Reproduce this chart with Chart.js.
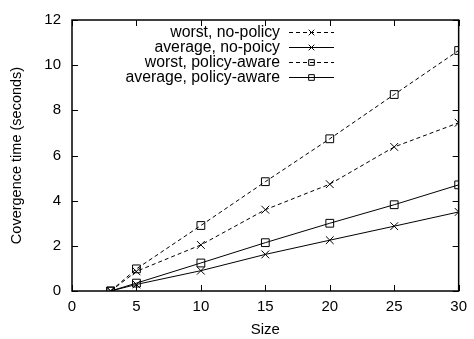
<!DOCTYPE html>
<html lang="en">
<head>
  <meta charset="UTF-8">
  <title>Convergence time vs size</title>
  <script src="https://cdn.jsdelivr.net/npm/chart.js"></script>
  <style>
    body {
      margin: 0;
      background: #ffffff;
    }

    #wrap {
      width: 474px;
      height: 339px;
    }
  </style>
</head>
<body>
  <div id="wrap">
    <canvas id="convChart" width="474" height="339"></canvas>
  </div>

  <script>
    const sizes = [3, 5, 10, 15, 20, 25, 30];
    const worstNoPolicy = [0, 0.87, 2.04, 3.6, 4.73, 6.38, 7.45];
    const averageNoPolicy = [0, 0.29, 0.9, 1.62, 2.25, 2.87, 3.5];
    const worstPolicyAware = [0, 0.98, 2.9, 4.84, 6.74, 8.7, 10.65];
    const averagePolicyAware = [0, 0.35, 1.24, 2.14, 3.0, 3.82, 4.7];

    const seriesLabels = ['worst, no-policy', 'average, no-poicy', 'worst, policy-aware', 'average, policy-aware'];
    const xTicks = [0, 5, 10, 15, 20, 25, 30];
    const yTicks = [0, 2, 4, 6, 8, 10, 12];

    const fontFamily = "'Liberation Sans', Arial, sans-serif";
    const dash = [4, 3];

    function toPoints(values) {
      return values.map((v, i) => ({ x: sizes[i], y: v }));
    }

    function makeSet(label, values, style, dashed) {
      return {
        label: label,
        data: toPoints(values),
        borderColor: '#000',
        borderWidth: 1,
        borderDash: dashed ? dash : [],
        pointStyle: style,
        pointRadius: 5.5,
        pointBorderWidth: 1,
        pointBorderColor: '#000',
        pointBackgroundColor: 'rgba(0,0,0,0)',
        tension: 0,
        fill: false
      };
    }

    // gnuplot style frame, inward ticks on all four sides, key in the top left
    const frameAndKey = {
      id: 'frameAndKey',
      afterDraw(chart) {
        const { ctx, chartArea: a, scales } = chart;
        ctx.save();
        ctx.strokeStyle = '#000';
        ctx.lineWidth = 1;
        ctx.setLineDash([]);
        ctx.beginPath();
        xTicks.forEach(t => {
          const px = Math.round(scales.x.getPixelForValue(t)) + 0.5;
          ctx.moveTo(px, a.bottom); ctx.lineTo(px, a.bottom - 6);
          ctx.moveTo(px, a.top); ctx.lineTo(px, a.top + 6);
        });
        yTicks.forEach(t => {
          const py = Math.round(scales.y.getPixelForValue(t)) + 0.5;
          ctx.moveTo(a.left, py); ctx.lineTo(a.left + 6, py);
          ctx.moveTo(a.right, py); ctx.lineTo(a.right - 6, py);
        });
        ctx.stroke();
        ctx.lineWidth = 1.5;
        ctx.strokeRect(a.left, a.top, a.right - a.left, a.bottom - a.top);

        // key
        const textRight = 280, lineStart = 289, lineEnd = 334, row0 = 32, step = 15;
        ctx.font = '15.8px ' + fontFamily;
        ctx.fillStyle = '#000';
        ctx.textAlign = 'right';
        ctx.textBaseline = 'middle';
        chart.data.datasets.forEach((ds, i) => {
          const y = row0 + i * step;
          ctx.fillText(ds.label, textRight, y + 1);
          ctx.lineWidth = 1;
          ctx.setLineDash(ds.borderDash);
          ctx.beginPath();
          ctx.moveTo(lineStart, y + 0.5);
          ctx.lineTo(lineEnd, y + 0.5);
          ctx.stroke();
          ctx.setLineDash([]);
          ctx.fillStyle = 'rgba(0,0,0,0)';
          Chart.helpers.drawPoint(ctx, { pointStyle: ds.pointStyle, radius: 4, rotation: 0, borderWidth: 1 }, (lineStart + lineEnd) / 2, y + 0.5);
          ctx.fillStyle = '#000';
        });
        ctx.restore();
      }
    };

    const chartConfig = {
      type: 'line',
      data: {
        datasets: [
          makeSet(seriesLabels[0], worstNoPolicy, 'crossRot', true),
          makeSet(seriesLabels[1], averageNoPolicy, 'crossRot', false),
          makeSet(seriesLabels[2], worstPolicyAware, 'rect', true),
          makeSet(seriesLabels[3], averagePolicyAware, 'rect', false)
        ]
      },
      options: {
        responsive: false,
        animation: false,
        layout: { padding: { left: 0, right: 12, top: 15, bottom: 0 } },
        plugins: {
          legend: { display: false },
          tooltip: { enabled: false }
        },
        scales: {
          x: {
            type: 'linear',
            min: 0,
            max: 30,
            afterBuildTicks: s => { s.ticks = xTicks.map(v => ({ value: v })); },
            afterFit: s => { s.height = 48; },
            grid: { display: false, drawTicks: false },
            border: { display: false },
            ticks: { padding: 7, color: '#000', font: { family: fontFamily, size: 15 } },
            title: {
              display: true,
              text: 'Size',
              color: '#000',
              padding: { top: 0, bottom: 0 },
              font: { family: fontFamily, size: 15 }
            }
          },
          y: {
            min: 0,
            max: 12,
            afterBuildTicks: s => { s.ticks = yTicks.map(v => ({ value: v })); },
            afterFit: s => { s.width = 72; },
            grid: { display: false, drawTicks: false },
            border: { display: false },
            ticks: { padding: 11, color: '#000', font: { family: fontFamily, size: 15 } },
            title: {
              display: true,
              text: 'Covergence time (seconds)',
              color: '#000',
              padding: { top: 8, bottom: 0 },
              font: { family: fontFamily, size: 14.5 }
            }
          }
        }
      },
      plugins: [frameAndKey]
    };

    new Chart(document.getElementById('convChart').getContext('2d'), chartConfig);
  </script>
</body>
</html>
